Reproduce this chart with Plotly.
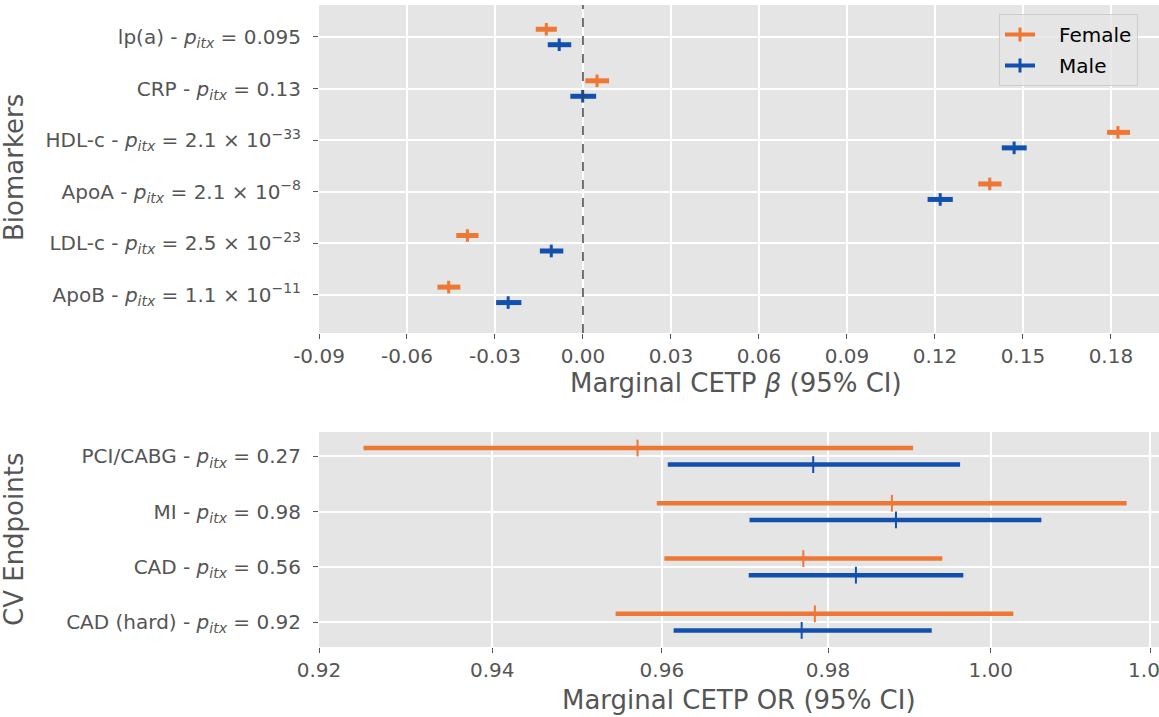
import math
import plotly.graph_objects as go

# ---------------- data ----------------
bio_labels = [
    "ApoB - <i>p</i><sub><i>itx</i></sub> = 1.1 × 10<sup>−11</sup>",
    "LDL-c - <i>p</i><sub><i>itx</i></sub> = 2.5 × 10<sup>−23</sup>",
    "ApoA - <i>p</i><sub><i>itx</i></sub> = 2.1 × 10<sup>−8</sup>",
    "HDL-c - <i>p</i><sub><i>itx</i></sub> = 2.1 × 10<sup>−33</sup>",
    "CRP - <i>p</i><sub><i>itx</i></sub> = 0.13",
    "lp(a) - <i>p</i><sub><i>itx</i></sub> = 0.095",
]
bio_female_est = [-0.0458, -0.0394, 0.1387, 0.1824, 0.0048, -0.0125]
bio_female_lo = [-0.0496, -0.0432, 0.1348, 0.1787, 0.0008, -0.0161]
bio_female_hi = [-0.0418, -0.0356, 0.1427, 0.1865, 0.0089, -0.0089]
bio_male_est = [-0.0255, -0.0108, 0.1218, 0.1470, -0.0001, -0.0081]
bio_male_lo = [-0.0296, -0.0147, 0.1175, 0.1428, -0.0043, -0.0120]
bio_male_hi = [-0.0210, -0.0067, 0.1261, 0.1513, 0.0045, -0.0040]

cv_labels = [
    "CAD (hard) - <i>p</i><sub><i>itx</i></sub> = 0.92",
    "CAD - <i>p</i><sub><i>itx</i></sub> = 0.56",
    "MI - <i>p</i><sub><i>itx</i></sub> = 0.98",
    "PCI/CABG - <i>p</i><sub><i>itx</i></sub> = 0.27",
]
cv_female_est = [0.9784, 0.9770, 0.9878, 0.9571]
cv_female_lo = [0.9545, 0.9603, 0.9594, 0.9251]
cv_female_hi = [1.0028, 0.9940, 1.0170, 0.9904]
cv_male_est = [0.9768, 0.9834, 0.9883, 0.9782]
cv_male_lo = [0.9614, 0.9704, 0.9705, 0.9607]
cv_male_hi = [0.9927, 0.9966, 1.0063, 0.9962]

bio_ticks = [-0.09, -0.06, -0.03, 0.00, 0.03, 0.06, 0.09, 0.12, 0.15, 0.18]
cv_ticks = [0.92, 0.94, 0.96, 0.98, 1.00, 1.02]
bio_null = 0.0
cv_null = 1.0

FEMALE = "#EE7733"
MALE = "#1250AE"
TXT = "#555555"
FONT = "DejaVu Sans"
OFF = 0.15

W, H = 1159, 717
L, R, T, B = 319, 0, 5, 70
PW, PH = W - L - R, H - T - B


def py(p):
    return (H - B - p) / PH


def px(p):
    return (p - L) / PW


fig = go.Figure()


def add_series(est, lo, hi, yoff, color, xa, ya, thick, msize, mwidth):
    ys = [i + yoff for i in range(len(est))]
    fig.add_trace(go.Scatter(
        x=est, y=ys, mode="markers", xaxis=xa, yaxis=ya, showlegend=False,
        marker=dict(symbol="line-ns", size=msize, color=color,
                    line=dict(color=color, width=mwidth)),
        error_x=dict(type="data", symmetric=False,
                     array=[h - e for h, e in zip(hi, est)],
                     arrayminus=[e - l for e, l in zip(est, lo)],
                     color=color, thickness=thick, width=0),
    ))


add_series(bio_female_est, bio_female_lo, bio_female_hi, OFF, FEMALE, "x", "y", 5, 9, 3)
add_series(bio_male_est, bio_male_lo, bio_male_hi, -OFF, MALE, "x", "y", 5, 9, 3)
add_series(cv_female_est, cv_female_lo, cv_female_hi, OFF, FEMALE, "x2", "y2", 4.5, 12, 2)
add_series(cv_male_est, cv_male_lo, cv_male_hi, -OFF, MALE, "x2", "y2", 4.5, 12, 2)

# legend entries
NB = "\u00a0\u00a0\u00a0"
for name, col in (("Female", FEMALE), ("Male", MALE)):
    fig.add_trace(go.Scatter(
        x=[None], y=[None], mode="lines+markers", name=NB + name, xaxis="x", yaxis="y",
        legendgroup=name,
        line=dict(color=col, width=4),
        marker=dict(symbol="line-ns", size=10, color=col, line=dict(color=col, width=3)),
    ))

axis_common = dict(
    showgrid=True, gridcolor="white", gridwidth=1.5, zeroline=False,
    showline=False, ticks="outside", ticklen=5, tickwidth=1.2, tickcolor=TXT,
    tickfont=dict(family=FONT, size=20, color=TXT), automargin=False,
    ticklabeloverflow="allow",
)

fig.update_layout(
    width=W, height=H,
    margin=dict(l=L, r=R, t=T, b=B, autoexpand=False),
    paper_bgcolor="white", plot_bgcolor="#E5E5E5",
    font=dict(family=FONT, color=TXT),
    xaxis=dict(domain=[0, 1], anchor="y", range=[-0.09, 0.1964],
               tickvals=bio_ticks, ticktext=[f"{v:.2f}" for v in bio_ticks], **axis_common),
    yaxis=dict(domain=[py(333), 1], anchor="x", range=[-0.74, 5.62],
               tickvals=list(range(len(bio_labels))), ticktext=bio_labels,
               ticklabelstandoff=8, **axis_common),
    xaxis2=dict(domain=[0, 1], anchor="y2", type="log",
                range=[math.log10(0.92), math.log10(1.0211)],
                tickvals=cv_ticks, ticktext=[f"{v:.2f}" for v in cv_ticks], **axis_common),
    yaxis2=dict(domain=[0, py(432)], anchor="x2", range=[-0.45, 3.44],
                tickvals=list(range(len(cv_labels))), ticktext=cv_labels,
                ticklabelstandoff=8, **axis_common),
    legend=dict(x=px(999), y=py(14), xanchor="left", yanchor="top",
                bgcolor="rgba(229,229,229,0.8)", bordercolor="#CCCCCC", borderwidth=1,
                font=dict(family=FONT, size=20, color="black"),
                traceorder="grouped", tracegroupgap=2),
    showlegend=True,
)

fig.add_shape(type="line", xref="x", yref="y domain", x0=bio_null, x1=bio_null, y0=0, y1=1,
              line=dict(color="#444444", width=1.5, dash="dash"))
fig.add_shape(type="line", xref="x2", yref="y2 domain", x0=math.log10(cv_null), x1=math.log10(cv_null),
              y0=0, y1=1, line=dict(color="#444444", width=1.5, dash="dash"))

ann_font = dict(family=FONT, size=26, color=TXT)
fig.add_annotation(text="Marginal CETP <i>β</i> (95% CI)", xref="paper", yref="paper",
                   x=px(736), y=py(383), xanchor="center", yanchor="middle",
                   showarrow=False, font=ann_font)
fig.add_annotation(text="Marginal CETP OR (95% CI)", xref="paper", yref="paper",
                   x=px(739), y=py(700), xanchor="center", yanchor="middle",
                   showarrow=False, font=ann_font)
fig.add_annotation(text="Biomarkers", xref="paper", yref="paper",
                   x=px(14), y=py(168), xanchor="center", yanchor="middle",
                   textangle=-90, showarrow=False, font=ann_font)
fig.add_annotation(text="CV Endpoints", xref="paper", yref="paper",
                   x=px(14), y=py(540), xanchor="center", yanchor="middle",
                   textangle=-90, showarrow=False, font=ann_font)

fig.write_html(
    "out.html",
    config={"displayModeBar": False},
    post_script="document.body.style.margin='0';document.body.style.overflow='hidden';",
)
